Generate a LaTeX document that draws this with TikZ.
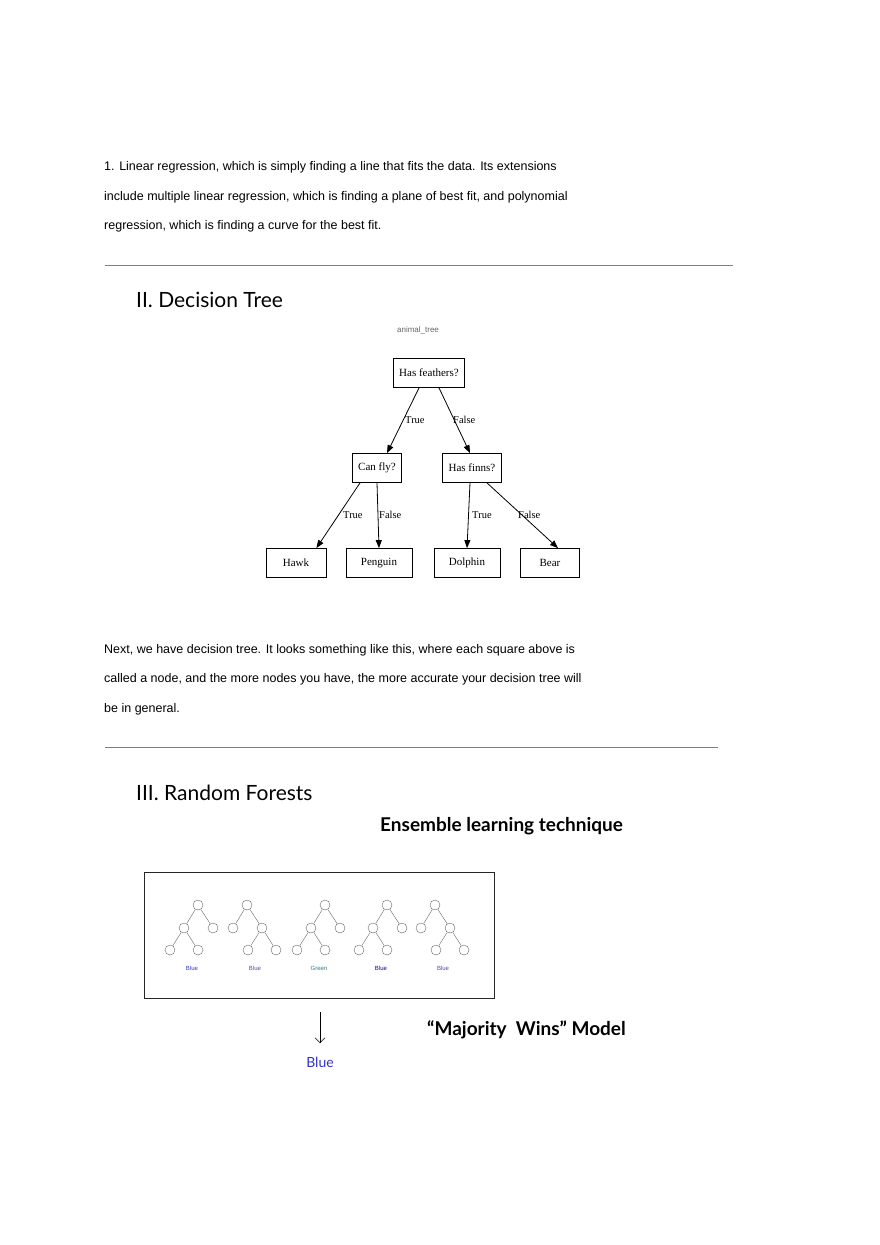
\documentclass[tikz,border=0pt]{standalone}
\usepackage{fontspec}
\setmainfont{Liberation Sans}
\newfontfamily\latofont{Lato}
\newfontfamily\serifbox{Liberation Serif}
\usetikzlibrary{arrows.meta}

\begin{document}
\begin{tikzpicture}[x=1pt,y=-1pt,
  para/.style={anchor=west,font=\fontsize{12.5}{15}\selectfont,inner sep=0},
  heading/.style={anchor=west,font=\latofont\fontsize{21}{24}\selectfont,inner sep=0},
  question/.style={rectangle,draw,thick,font=\serifbox\fontsize{11}{13}\selectfont,minimum height=29pt,inner sep=6pt},
  answer/.style={font=\serifbox\fontsize{10.5}{12}\selectfont,inner sep=0,anchor=west},
  edge/.style={thick,-{Triangle[length=8pt,width=6pt]}},
  leafnode/.style={circle,draw=gray!80!black,thin,minimum size=10pt,inner sep=0},
  vote/.style={font=\fontsize{6}{7}\selectfont,inner sep=0}]

\useasboundingbox (0,0) rectangle (880,1245);

% section I
\node[para] (l1) at (104,167) {1. Linear regression, which is simply finding a line that fits the data. Its extensions};
\node[para] (l2) at (104,197) {include multiple linear regression, which is finding a plane of best fit, and polynomial};
\node[para] (l3) at (104,226) {regression, which is finding a curve for the best fit.};
\draw[gray,thin] (105,265) -- (733,265);

% section II
\node[heading] (t2) at (136,300) {II. Decision Tree};
\node[font=\fontsize{8}{9}\selectfont,text=gray!80!black] (title) at (418,330) {animal\_tree};

\node[question] (feathers) at (429,373) {Has feathers?};
\node[question] (fly) at (377,468) {Can fly?};
\node[question] (finns) at (472,468) {Has finns?};
\node[question,minimum width=60pt] (hawk) at (296,563) {Hawk};
\node[question,minimum width=66pt] (penguin) at (379,563) {Penguin};
\node[question,minimum width=66pt] (dolphin) at (467,563) {Dolphin};
\node[question,minimum width=59pt] (bear) at (550,563) {Bear};

\draw[edge] ([xshift=-10pt]feathers.south) -- ([xshift=10pt]fly.north);
\draw[edge] ([xshift=10pt]feathers.south) -- ([xshift=-2pt]finns.north);
\draw[edge] ([xshift=-17pt]fly.south) -- ([xshift=-10pt]hawk.north east);
\draw[edge] (fly.south) -- (penguin.north);
\draw[edge] ([xshift=-2pt]finns.south) -- (dolphin.north);
\draw[edge] ([xshift=15pt]finns.south) -- ([xshift=8pt]bear.north);

\node[answer] (a1) at (405,420) {True};
\node[answer] (a2) at (453,420) {False};
\node[answer] (a3) at (343,515) {True};
\node[answer] (a4) at (379,515) {False};
\node[answer] (a5) at (472,515) {True};
\node[answer] (a6) at (518,515) {False};

\node[para] (m1) at (104,650) {Next, we have decision tree. It looks something like this, where each square above is};
\node[para] (m2) at (104,679) {called a node, and the more nodes you have, the more accurate your decision tree will};
\node[para] (m3) at (104,709) {be in general.};
\draw[gray,thin] (105,747) -- (718,747);

% section III
\node[heading] (t3) at (136,793) {III. Random Forests};
\node[anchor=west,inner sep=0,font=\latofont\bfseries\fontsize{19}{22}\selectfont] (ens) at (380,826) {Ensemble learning technique};
\node[draw,thick,gray!30!black,minimum width=350pt,minimum height=126pt,anchor=north west] (forest) at (144,872) {};

% trees: root, mid node, side node, two leaves
\foreach \i/\rx/\s/\lbl/\col in {1/198/0/Blue/blue!60!gray,2/247/1/Blue/blue!40!gray,3/325/0/Green/teal!70!gray,4/387/0/Blue/blue!70!black,5/435/1/Blue/blue!40!gray}{
  \ifnum\s=0
    \pgfmathsetmacro{\mx}{\rx-14}\pgfmathsetmacro{\ox}{\rx+15}\pgfmathsetmacro{\vx}{\rx-6}
  \else
    \pgfmathsetmacro{\mx}{\rx+15}\pgfmathsetmacro{\ox}{\rx-14}\pgfmathsetmacro{\vx}{\rx+8}
  \fi
  \pgfmathsetmacro{\px}{\mx-14}\pgfmathsetmacro{\qx}{\mx+14}
  \node[leafnode] (r\i) at (\rx pt,-905pt) {};
  \node[leafnode] (m\i) at (\mx pt,-928pt) {};
  \node[leafnode] (o\i) at (\ox pt,-928pt) {};
  \node[leafnode] (p\i) at (\px pt,-950pt) {};
  \node[leafnode] (q\i) at (\qx pt,-950pt) {};
  \draw[gray!80!black] (r\i) -- (m\i) (r\i) -- (o\i) (m\i) -- (p\i) (m\i) -- (q\i);
  \node[vote,text=\col] (v\i) at (\vx pt,-968pt) {\lbl};
}

\coordinate (down) at (320,1012);
\coordinate (downend) at (320,1043);
\draw[-{Straight Barb[length=5pt,width=10pt]},thin] (down) -- (downend);
\node[font=\latofont\fontsize{14}{16}\selectfont,text=blue!60!gray] (result) at (320,1062) {Blue};
\node[anchor=west,inner sep=0,font=\latofont\bfseries\fontsize{19}{22}\selectfont] (maj) at (427,1030) {“Majority~ Wins” Model};
\end{tikzpicture}
\end{document}
